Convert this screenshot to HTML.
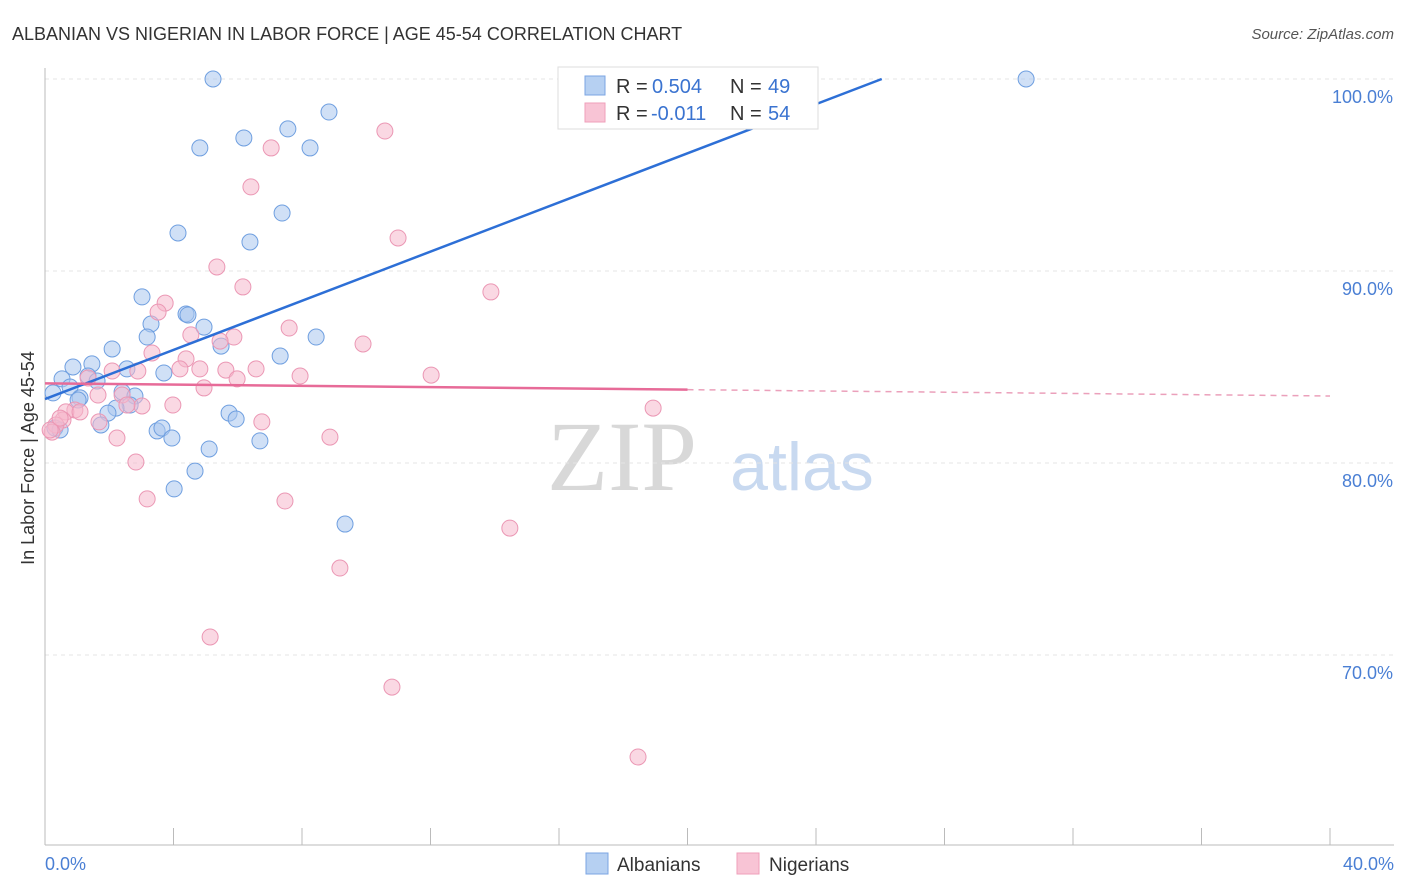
<!DOCTYPE html>
<html><head><meta charset="utf-8">
<style>
body{margin:0;background:#fff;font-family:"Liberation Sans",sans-serif;}
svg{display:block}
</style></head>
<body>
<svg id="chart" width="1406" height="892">
<text x="12" y="40" font-size="18" fill="#333">ALBANIAN VS NIGERIAN IN LABOR FORCE | AGE 45-54 CORRELATION CHART</text>
<text x="1394" y="39" font-size="15" fill="#555" font-style="italic" text-anchor="end">Source: ZipAtlas.com</text>
<text x="622" y="490" font-size="100" fill="#d8d8d8" font-family="Liberation Serif,serif" text-anchor="middle">ZIP</text>
<text x="802" y="490" font-size="68" fill="#c8d9f0" text-anchor="middle">atlas</text>
<g id="grid"></g><g id="pts"></g><g id="lines"></g>
<text transform="translate(34,458) rotate(-90)" font-size="18" fill="#333" text-anchor="middle">In Labor Force | Age 45-54</text>
<text x="45" y="870" font-size="18" fill="#4a7fd4">0.0%</text>
<text x="1394" y="870" font-size="18" fill="#4a7fd4" text-anchor="end">40.0%</text>
<g>
<rect x="558" y="67" width="260" height="62" fill="#fff" stroke="#ddd"/>
<rect x="585" y="76" width="20" height="19" fill="#b6d0f2" stroke="#7ba5e3"/>
<rect x="585" y="103" width="20" height="19" fill="#f8c4d5" stroke="#ef9fba"/>
<text x="616" y="93" font-size="20" fill="#333">R = </text><text x="652" y="93" font-size="20" fill="#3a73d0">0.504</text>
<text x="730" y="93" font-size="20" fill="#333">N = </text><text x="768" y="93" font-size="20" fill="#3a73d0">49</text>
<text x="616" y="120" font-size="20" fill="#333">R = </text><text x="651" y="120" font-size="20" fill="#3a73d0">-0.011</text>
<text x="730" y="120" font-size="20" fill="#333">N = </text><text x="768" y="120" font-size="20" fill="#3a73d0">54</text>
</g>
<g><rect x="586" y="853" width="22" height="21" fill="#b6d0f2" stroke="#7ba5e3"/><text x="617" y="871" font-size="19" fill="#333">Albanians</text></g>
<g><rect x="737" y="853" width="22" height="21" fill="#f8c4d5" stroke="#ef9fba"/><text x="769" y="871" font-size="19" fill="#333">Nigerians</text></g>
</svg>
<script>
const blueX=[5.23,30.54,8.84,7.56,6.19,4.82,8.25,7.38,4.14,6.38,3.02,4.39,4.45,3.30,4.95,3.18,8.44,5.48,2.09,7.32,1.46,0.87,2.55,3.70,1.34,0.53,1.62,0.78,0.25,2.40,1.09,2.80,1.03,2.65,2.21,1.96,5.73,5.95,1.74,0.31,0.47,3.49,3.64,3.95,6.69,5.11,4.67,4.02,9.34];
const blueY=[100,100,98.28,97.40,96.93,96.41,96.41,93.02,91.98,91.51,88.65,87.76,87.71,87.24,87.08,86.56,86.56,86.09,85.94,85.57,85.16,85.00,84.90,84.69,84.53,84.38,84.27,83.96,83.65,83.70,83.39,83.49,83.28,83.02,82.86,82.60,82.60,82.29,81.98,81.82,81.72,81.67,81.82,81.30,81.15,80.73,79.58,78.65,76.82];
const pinkX=[16.53,10.58,7.04,6.41,10.99,5.35,6.16,13.88,3.74,3.52,7.60,4.54,5.88,5.45,9.90,3.33,4.39,4.20,2.89,4.82,5.63,6.57,7.94,12.02,2.09,1.34,5.98,4.95,2.40,1.65,3.02,3.98,2.55,0.93,0.65,0.56,1.68,6.75,0.34,0.22,2.24,8.87,18.93,2.83,3.18,7.47,14.47,9.18,5.14,10.80,18.46,0.16,1.09,0.47];
const pinkY=[100,97.29,96.41,94.38,91.72,90.21,89.17,88.91,88.33,87.86,87.03,86.67,86.56,86.35,86.20,85.73,85.42,84.90,84.79,84.90,84.84,84.90,84.53,84.58,84.79,84.43,84.38,83.91,83.54,83.54,82.97,83.02,83.02,82.76,82.66,82.24,82.14,82.14,81.98,81.61,81.30,81.35,82.86,80.05,78.13,78.02,76.61,74.53,70.94,68.33,64.69,81.72,82.66,82.34];
const yTicks=[100,90,80,70];
const xTicks=[0,4,8,12,16,20,24,28,32,36,40];
const blueTrend=[83.33,0.64];
const pinkTrend=[84.15,-0.0165];
const NS='http://www.w3.org/2000/svg';
const sx=v=>45+v*32.125, sy=v=>79+(100-v)*19.2;
function mk(tag,attrs,parent){const e=document.createElementNS(NS,tag);for(const k in attrs)e.setAttribute(k,attrs[k]);parent.appendChild(e);return e;}
const grid=document.getElementById('grid'),pts=document.getElementById('pts'),lines=document.getElementById('lines');
yTicks.forEach(t=>{
 const l=mk('line',{x1:45,x2:1394,y1:sy(t),y2:sy(t),stroke:'#e4e4e4','stroke-dasharray':'4,4'},grid);
 
 
 const tx=mk('text',{x:1393,y:sy(t)+24,'font-size':18,fill:'#4a7fd4','text-anchor':'end'},grid);
 tx.textContent=t.toFixed(1)+'%';
 
 
});
mk('line',{x1:45,x2:45,y1:68,y2:845,stroke:'#bbb'},grid);
mk('line',{x1:45,x2:1394,y1:845,y2:845,stroke:'#bbb'},grid);
xTicks.forEach(t=>{
 const l=mk('line',{x1:sx(t),x2:sx(t),y1:828,y2:845,stroke:'#bbb'},grid);
 
 
});
function dots(X,Y,fill,stroke,name){
 X.forEach((x,i)=>{
  const c=mk('circle',{cx:sx(x),cy:sy(Y[i]),r:8,fill:fill,'fill-opacity':0.55,stroke:stroke,'stroke-width':1},pts);
  
  
 });
}
dots(blueX,blueY,'#a9c7ef','#6f9fe0','albanian-point');
dots(pinkX,pinkY,'#f5b8cc','#eb97b4','nigerian-point');
const bEnd=(100-blueTrend[0])/blueTrend[1];
const bl=mk('line',{x1:sx(0),y1:sy(blueTrend[0]),x2:sx(bEnd),y2:sy(100),stroke:'#2d6fd6','stroke-width':2.5},lines);


const pl=mk('line',{x1:sx(0),y1:sy(pinkTrend[0]),x2:sx(20),y2:sy(pinkTrend[0]+20*pinkTrend[1]),stroke:'#e76b98','stroke-width':2.5},lines);


const pd=mk('line',{x1:sx(20),y1:sy(pinkTrend[0]+20*pinkTrend[1]),x2:sx(40),y2:sy(pinkTrend[0]+40*pinkTrend[1]),stroke:'#eba0bb','stroke-width':1.5,'stroke-dasharray':'6,5'},lines);


</script>
</body></html>
